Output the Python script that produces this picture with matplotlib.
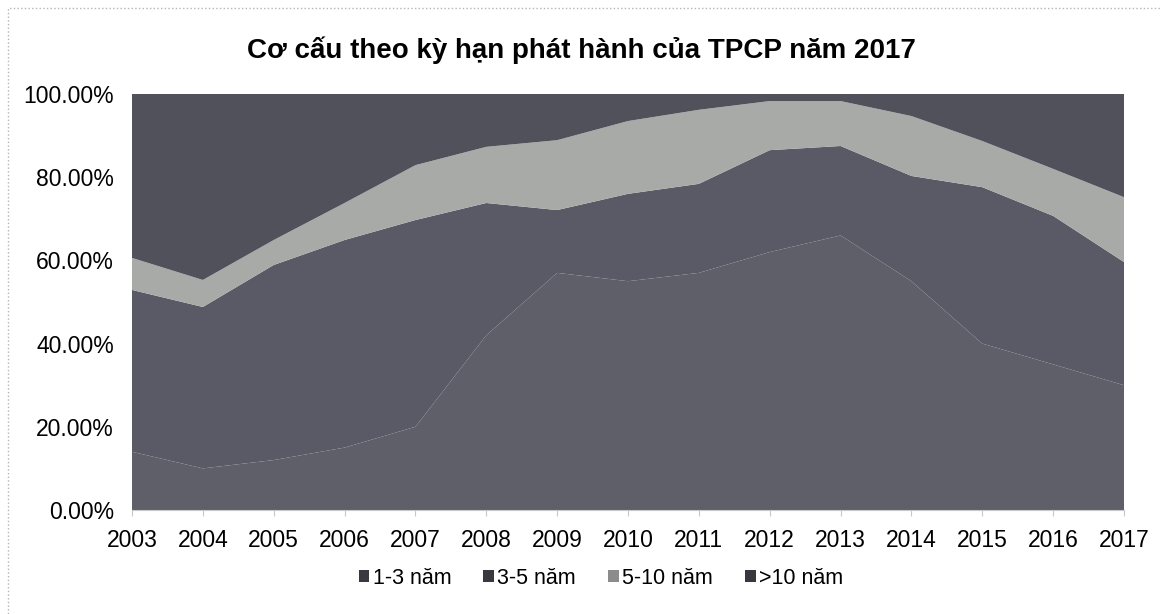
import matplotlib
matplotlib.use("Agg")
import matplotlib.pyplot as plt
import numpy as np
from matplotlib.patches import Rectangle
from matplotlib.ticker import FuncFormatter

plt.rcParams['font.family'] = ['Liberation Sans', 'DejaVu Sans']

# data: share of issuance by maturity (%)
years = list(range(2003, 2018))
series_names = ['1-3 năm', '3-5 năm', '5-10 năm', '>10 năm']
share_1_3 = [14, 10, 12, 15, 20, 42, 57, 55, 57, 62, 66, 55, 40, 35, 30]
share_3_5 = [38.9, 38.8, 46.9, 49.9, 49.7, 31.8, 15.1, 21.0, 21.4, 24.5, 21.5, 25.3, 37.6, 35.7, 29.6]
share_5_10 = [7.7, 6.5, 6.0, 8.9, 13.2, 13.5, 16.8, 17.5, 17.8, 11.8, 10.8, 14.4, 11.1, 11.3, 15.6]
share_10 = [39.4, 44.7, 35.1, 26.2, 17.1, 12.7, 11.1, 6.5, 3.8, 1.7, 1.7, 5.3, 11.3, 18.0, 24.8]

# colours (scan looks grey)
colours = ['#5e5f69', '#595a65', '#a8aaa8', '#50515a']
legend_colours = ['#38383e', '#38383e', '#8c8c8c', '#38383e']

fig = plt.figure(figsize=(11.62, 6.14), dpi=100)
fig.patches.append(Rectangle((8 / 1162, -0.1), 1.2, 1 - 8 / 614 + 0.1,
                             transform=fig.transFigure, fill=False,
                             edgecolor='#b5b5b5', linewidth=1, linestyle=':'))

ax = fig.add_axes([132 / 1162, 1 - 510 / 614, (1124 - 132) / 1162, (510 - 94) / 614])
ax.stackplot(years, share_1_3, share_3_5, share_5_10, share_10,
             colors=colours, labels=series_names, linewidth=0)

ax.set_xlim(2003, 2017)
ax.set_ylim(0, 100)
ax.set_xticks(years)
ax.set_yticks([0, 20, 40, 60, 80, 100])
ax.yaxis.set_major_formatter(FuncFormatter(lambda v, p: f'{v:.2f}%'))
for s in ['top', 'right', 'left']:
    ax.spines[s].set_visible(False)
ax.spines['bottom'].set_color('#c8c8c8')
ax.tick_params(axis='y', length=0, labelsize=16.5, pad=13)
ax.tick_params(axis='x', length=4, color='#c8c8c8', labelsize=16.5, pad=10)

fig.text(0.5, 1 - 50 / 614, 'Cơ cấu theo kỳ hạn phát hành của TPCP năm 2017',
         ha='center', va='center', fontsize=20, fontweight='bold')

handles = [Rectangle((0, 0), 1, 1, facecolor=c, edgecolor='none') for c in legend_colours]
fig.legend(handles, series_names, loc='center', bbox_to_anchor=(601 / 1162, 1 - 578 / 614),
           ncol=4, frameon=False, fontsize=15.5, handlelength=0.5, handleheight=0.5,
           handletextpad=0.15, columnspacing=1.5)

plt.savefig('out.png', dpi=100)
